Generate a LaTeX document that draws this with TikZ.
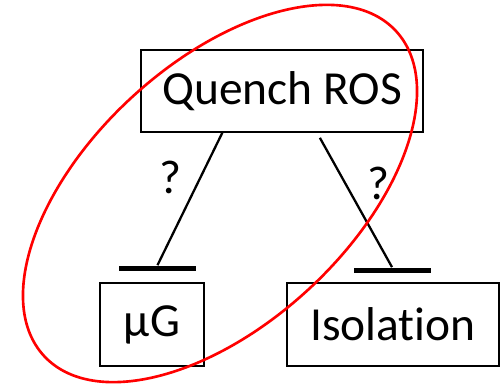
\documentclass[tikz,border=0pt]{standalone}
\usepackage{fontspec}
\setmainfont{Carlito}[Ligatures=NoCommon]
\usepackage{tikz}

\begin{document}
\begin{tikzpicture}[node distance=4.67cm, font=\fontsize{27}{32}\selectfont]
\tikzstyle{block} = [draw, rectangle, line width=0.9pt, inner sep=0pt, text centered, minimum height=1.66cm]
\tikzstyle{tbar} = [fill=black, rectangle, inner sep=0pt, minimum width=1.54cm, minimum height=0.1cm]
\tikzstyle{line} = [draw, line width=1.3pt]
\tikzstyle{ring} = [draw=red, line width=1.5pt]

\useasboundingbox (0,0) rectangle (10,7.68);

\node [block, minimum width=5.64cm, minimum height=1.64cm] (Q) at (5.64,5.86) {Quench ROS};
\node [block, minimum width=2.08cm, below of=Q, xshift=-2.6cm] (G) {μG};
\node [block, minimum width=4.24cm, below of=Q, xshift=2.22cm] (I) {Isolation};
\node [tbar, above of=G, node distance=1.13cm, xshift=0.11cm] (TG) {};
\node [tbar, above of=I, node distance=1.09cm, xshift=-0.02cm] (TI) {};

\path [line] (Q.215.7) -- node[pos=0.34, xshift=-0.6cm] {?} (TG.north);
\path [line, shorten <=0.115cm] (Q.-50.3) -- node[pos=0.38, xshift=0.66cm] {?} (TI.north);

\draw [ring, rotate around={42.7:(4.4,3.81)}] (4.4,3.81) ellipse (4.79cm and 2.61cm);
\end{tikzpicture}
\end{document}
